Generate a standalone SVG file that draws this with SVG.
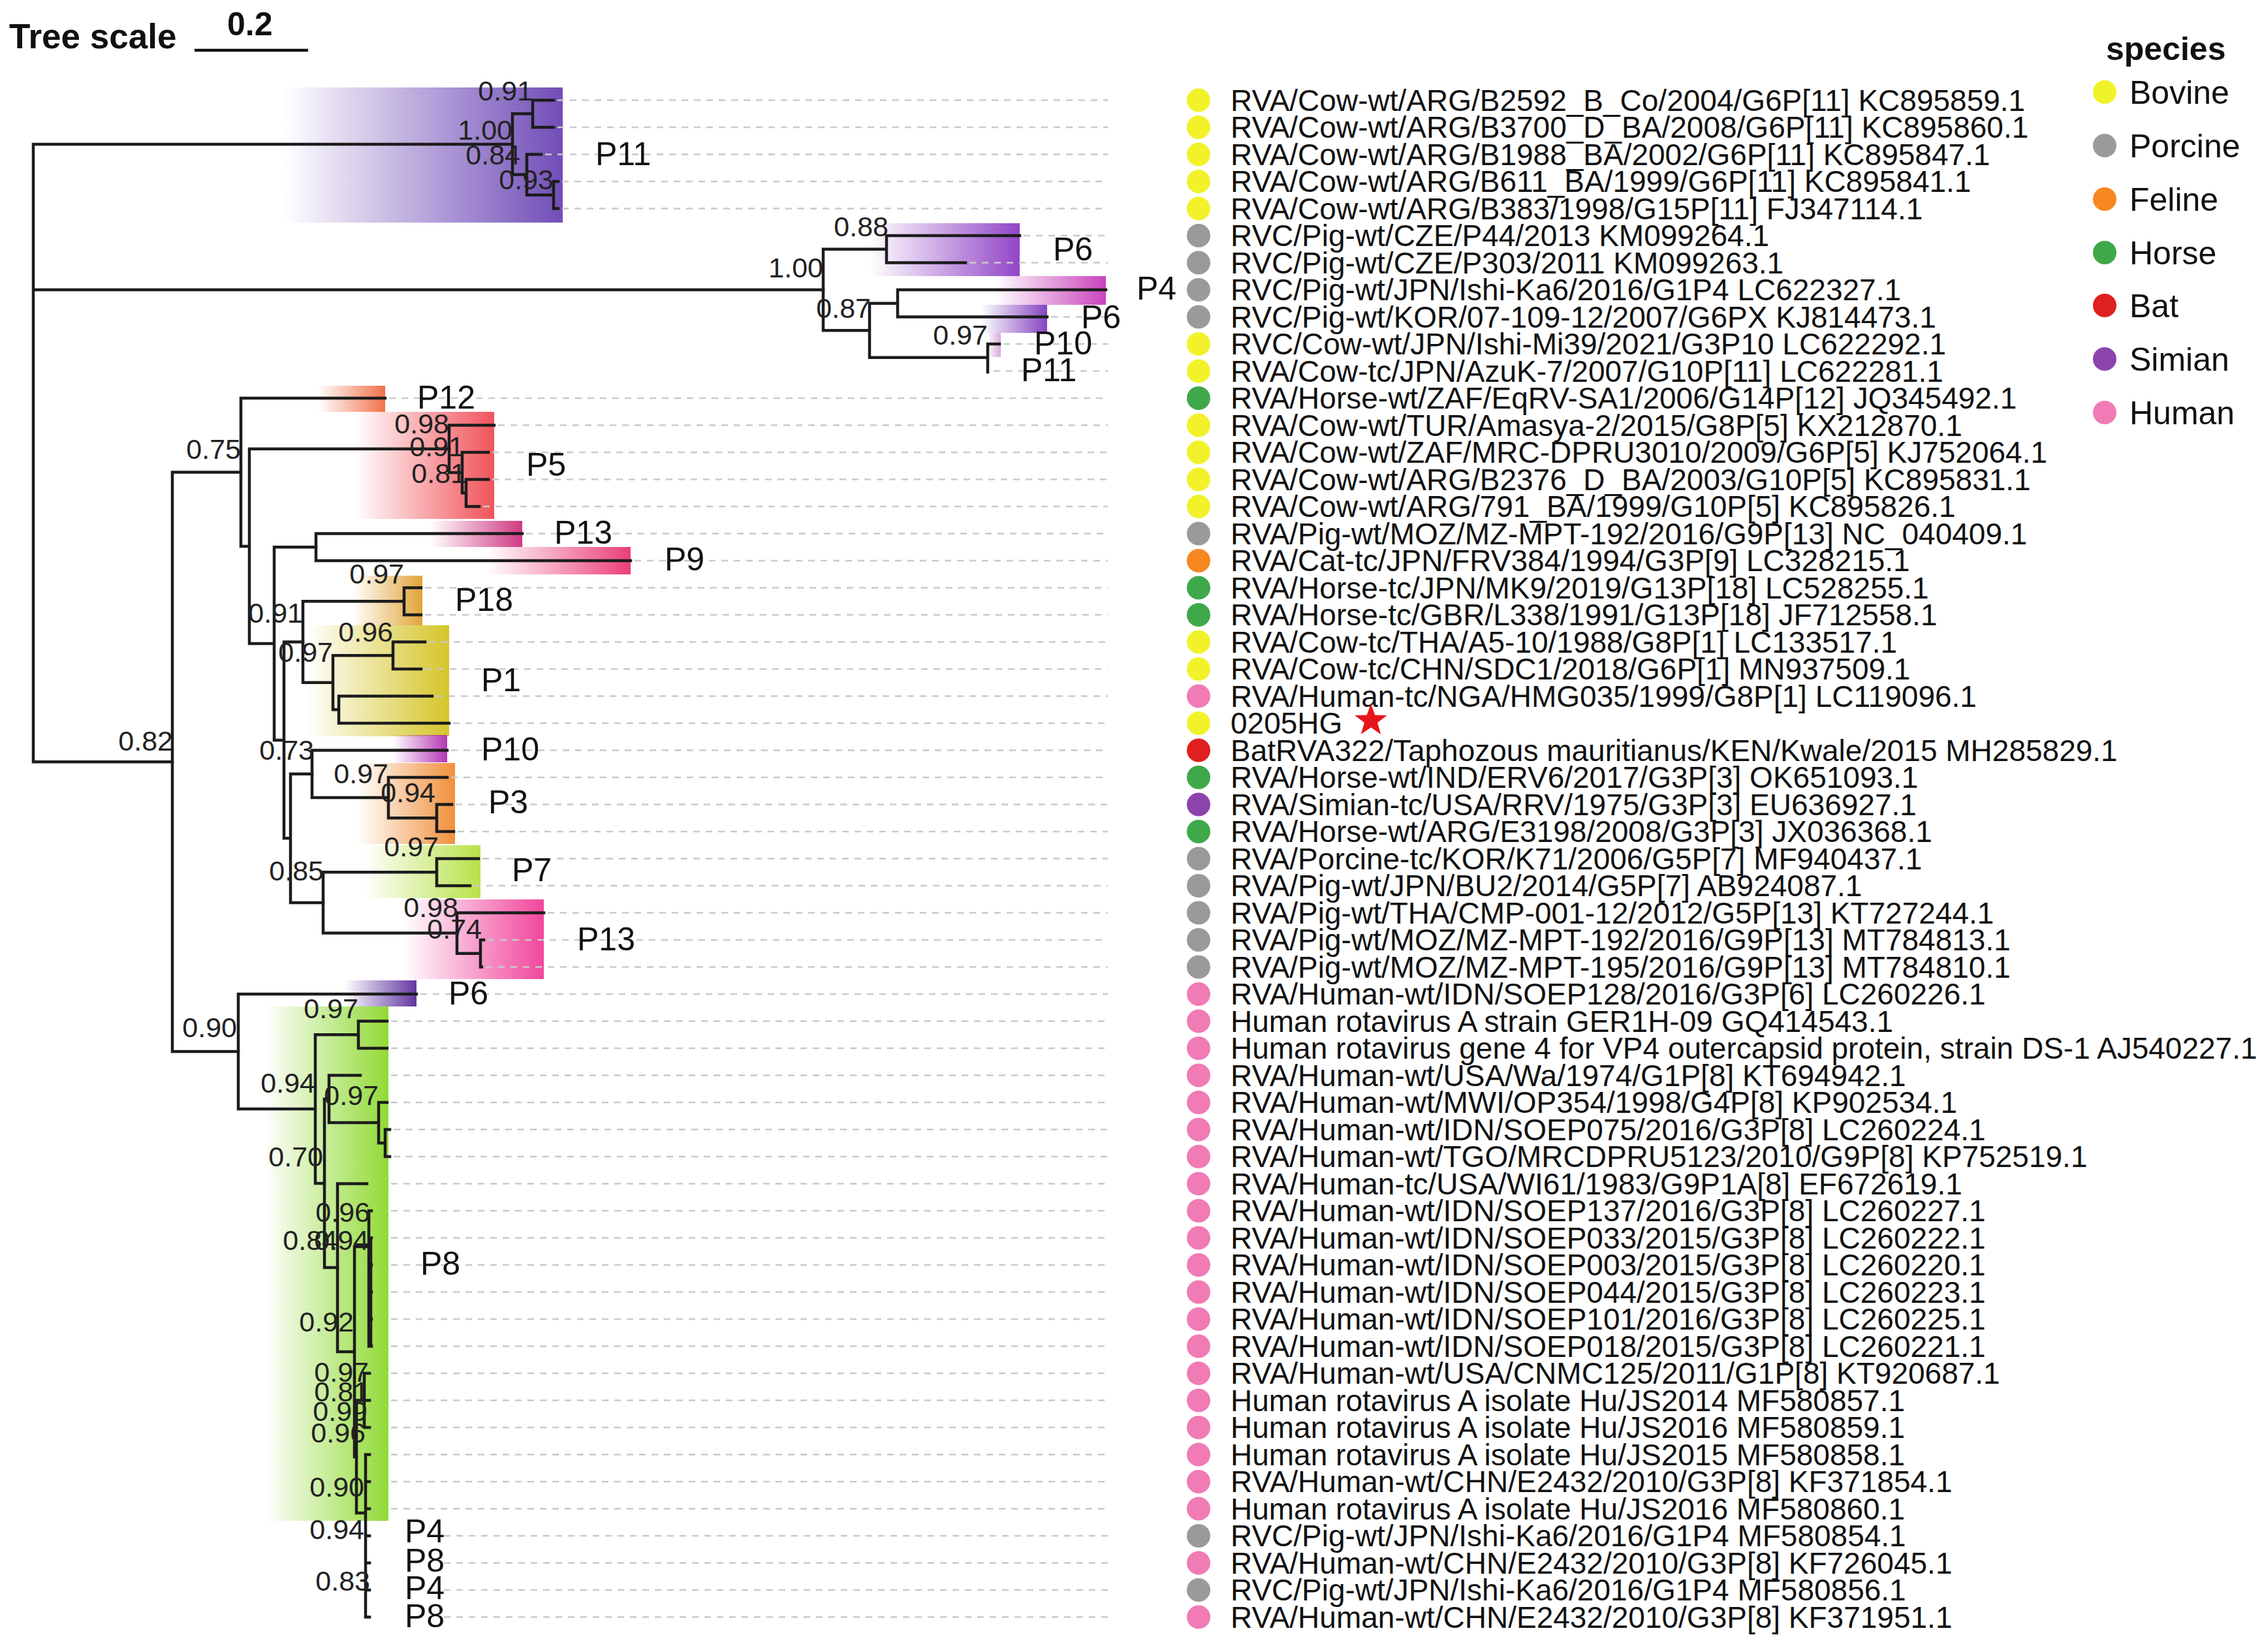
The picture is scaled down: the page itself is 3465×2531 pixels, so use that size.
<svg xmlns="http://www.w3.org/2000/svg" width="3465" height="2531" viewBox="0 0 3465 2531">
<style>
.br{fill:none;stroke:#1c1c1c;stroke-width:4.5;stroke-linecap:square}
.dash{stroke:#c9c9c9;stroke-width:2.5;stroke-dasharray:10 9}
text{font-family:"Liberation Sans",Arial,Helvetica,sans-serif;fill:#111}
.lf{font-size:46px}
.bs{font-size:43px;fill:#222;text-anchor:end}
.cl{font-size:50px}
.lg{font-size:50px}
.bov{fill:#f2f22a}.por{fill:#9a9a9a}.fel{fill:#f7871f}.hor{fill:#3fa84a}.bat{fill:#e0201e}.sim{fill:#8b44ac}.hum{fill:#f07bb5}
</style>
<defs>
<linearGradient id="g-p11"><stop offset="0" stop-color="#6a44b4" stop-opacity="0"/><stop offset="1" stop-color="#6a44b4" stop-opacity="0.95"/></linearGradient>
<linearGradient id="g-p6a"><stop offset="0" stop-color="#8c3cc4" stop-opacity="0"/><stop offset="1" stop-color="#8c3cc4" stop-opacity="0.95"/></linearGradient>
<linearGradient id="g-p4"><stop offset="0" stop-color="#c73ab8" stop-opacity="0"/><stop offset="1" stop-color="#c73ab8" stop-opacity="0.95"/></linearGradient>
<linearGradient id="g-p6b"><stop offset="0" stop-color="#7d3bbd" stop-opacity="0"/><stop offset="1" stop-color="#7d3bbd" stop-opacity="0.95"/></linearGradient>
<linearGradient id="g-p10a"><stop offset="0" stop-color="#c070c8" stop-opacity="0.1"/><stop offset="1" stop-color="#c070c8" stop-opacity="0.6"/></linearGradient>
<linearGradient id="g-p12"><stop offset="0" stop-color="#f06a40" stop-opacity="0"/><stop offset="1" stop-color="#f06a40" stop-opacity="0.95"/></linearGradient>
<linearGradient id="g-p5"><stop offset="0" stop-color="#f04a52" stop-opacity="0"/><stop offset="1" stop-color="#f04a52" stop-opacity="0.95"/></linearGradient>
<linearGradient id="g-p13a"><stop offset="0" stop-color="#cc2f7c" stop-opacity="0"/><stop offset="1" stop-color="#cc2f7c" stop-opacity="0.95"/></linearGradient>
<linearGradient id="g-p9"><stop offset="0" stop-color="#ea3572" stop-opacity="0"/><stop offset="1" stop-color="#ea3572" stop-opacity="0.95"/></linearGradient>
<linearGradient id="g-p18"><stop offset="0" stop-color="#e0a030" stop-opacity="0"/><stop offset="1" stop-color="#e0a030" stop-opacity="0.95"/></linearGradient>
<linearGradient id="g-p1"><stop offset="0" stop-color="#d2c21e" stop-opacity="0"/><stop offset="1" stop-color="#d2c21e" stop-opacity="0.95"/></linearGradient>
<linearGradient id="g-p10b"><stop offset="0" stop-color="#b02cb0" stop-opacity="0"/><stop offset="1" stop-color="#b02cb0" stop-opacity="0.95"/></linearGradient>
<linearGradient id="g-p3"><stop offset="0" stop-color="#f08a30" stop-opacity="0"/><stop offset="1" stop-color="#f08a30" stop-opacity="0.95"/></linearGradient>
<linearGradient id="g-p7"><stop offset="0" stop-color="#b5e040" stop-opacity="0"/><stop offset="1" stop-color="#b5e040" stop-opacity="0.95"/></linearGradient>
<linearGradient id="g-p13b"><stop offset="0" stop-color="#f03c96" stop-opacity="0"/><stop offset="1" stop-color="#f03c96" stop-opacity="0.95"/></linearGradient>
<linearGradient id="g-p6c"><stop offset="0" stop-color="#5a2c9c" stop-opacity="0"/><stop offset="1" stop-color="#5a2c9c" stop-opacity="0.95"/></linearGradient>
<linearGradient id="g-p8"><stop offset="0" stop-color="#8cd82c" stop-opacity="0"/><stop offset="1" stop-color="#8cd82c" stop-opacity="0.95"/></linearGradient>
</defs>
<rect width="3465" height="2531" fill="#ffffff"/>

<g id="tree-scale">
<text x="14" y="74" font-size="53" font-weight="bold">Tree scale</text>
<text x="348" y="54" font-size="50" font-weight="bold">0.2</text>
<line x1="298" y1="77" x2="472" y2="77" stroke="#111" stroke-width="4.5"/>
</g>

<g id="clade-boxes">
<rect x="434" y="134" width="428" height="207" fill="url(#g-p11)"/>
<rect x="1332" y="342" width="230" height="81" fill="url(#g-p6a)"/>
<rect x="1524" y="423" width="170" height="44" fill="url(#g-p4)"/>
<rect x="1502" y="467" width="102" height="43" fill="url(#g-p6b)"/>
<rect x="1515" y="510" width="18" height="37" fill="url(#g-p10a)"/>
<rect x="487" y="591" width="103" height="40" fill="url(#g-p12)"/>
<rect x="544" y="631" width="213" height="164" fill="url(#g-p5)"/>
<rect x="659" y="798" width="141" height="40" fill="url(#g-p13a)"/>
<rect x="745" y="838" width="221" height="42" fill="url(#g-p9)"/>
<rect x="540" y="882" width="107" height="76" fill="url(#g-p18)"/>
<rect x="470" y="958" width="218" height="170" fill="url(#g-p1)"/>
<rect x="602" y="1126" width="83" height="42" fill="url(#g-p10b)"/>
<rect x="547" y="1169" width="150" height="124" fill="url(#g-p3)"/>
<rect x="557" y="1295" width="179" height="81" fill="url(#g-p7)"/>
<rect x="618" y="1378" width="215" height="122" fill="url(#g-p13b)"/>
<rect x="527" y="1502" width="111" height="40" fill="url(#g-p6c)"/>
<rect x="405" y="1542" width="190" height="788" fill="url(#g-p8)"/>
</g>

<g id="leaves">
<g id="leaf-01" transform="translate(0 153.5)"><line class="dash" x1="854" x2="1697"/><circle class="bov" cx="1836" r="18"/><text class="lf" x="1885" y="16">RVA/Cow-wt/ARG/B2592_B_Co/2004/G6P[11] KC895859.1</text></g>
<g id="leaf-02" transform="translate(0 195)"><line class="dash" x1="854" x2="1697"/><circle class="bov" cx="1836" r="18"/><text class="lf" x="1885" y="16">RVA/Cow-wt/ARG/B3700_D_BA/2008/G6P[11] KC895860.1</text></g>
<g id="leaf-03" transform="translate(0 236.5)"><line class="dash" x1="835" x2="1697"/><circle class="bov" cx="1836" r="18"/><text class="lf" x="1885" y="16">RVA/Cow-wt/ARG/B1988_BA/2002/G6P[11] KC895847.1</text></g>
<g id="leaf-04" transform="translate(0 278)"><line class="dash" x1="861" x2="1697"/><circle class="bov" cx="1836" r="18"/><text class="lf" x="1885" y="16">RVA/Cow-wt/ARG/B611_BA/1999/G6P[11] KC895841.1</text></g>
<g id="leaf-05" transform="translate(0 319.5)"><line class="dash" x1="861" x2="1697"/><circle class="bov" cx="1836" r="18"/><text class="lf" x="1885" y="16">RVA/Cow-wt/ARG/B383/1998/G15P[11] FJ347114.1</text></g>
<g id="leaf-06" transform="translate(0 361)"><line class="dash" x1="1568" x2="1697"/><circle class="por" cx="1836" r="18"/><text class="lf" x="1885" y="16">RVC/Pig-wt/CZE/P44/2013 KM099264.1</text></g>
<g id="leaf-07" transform="translate(0 402.5)"><line class="dash" x1="1485" x2="1697"/><circle class="por" cx="1836" r="18"/><text class="lf" x="1885" y="16">RVC/Pig-wt/CZE/P303/2011 KM099263.1</text></g>
<g id="leaf-08" transform="translate(0 444)"><circle class="por" cx="1836" r="18"/><text class="lf" x="1885" y="16">RVC/Pig-wt/JPN/Ishi-Ka6/2016/G1P4 LC622327.1</text></g>
<g id="leaf-09" transform="translate(0 485.5)"><line class="dash" x1="1610" x2="1697"/><circle class="por" cx="1836" r="18"/><text class="lf" x="1885" y="16">RVC/Pig-wt/KOR/07-109-12/2007/G6PX KJ814473.1</text></g>
<g id="leaf-10" transform="translate(0 527)"><line class="dash" x1="1537" x2="1697"/><circle class="bov" cx="1836" r="18"/><text class="lf" x="1885" y="16">RVC/Cow-wt/JPN/Ishi-Mi39/2021/G3P10 LC622292.1</text></g>
<g id="leaf-11" transform="translate(0 568.5)"><line class="dash" x1="1522" x2="1697"/><circle class="bov" cx="1836" r="18"/><text class="lf" x="1885" y="16">RVA/Cow-tc/JPN/AzuK-7/2007/G10P[11] LC622281.1</text></g>
<g id="leaf-12" transform="translate(0 610)"><line class="dash" x1="596" x2="1697"/><circle class="hor" cx="1836" r="18"/><text class="lf" x="1885" y="16">RVA/Horse-wt/ZAF/EqRV-SA1/2006/G14P[12] JQ345492.1</text></g>
<g id="leaf-13" transform="translate(0 651.5)"><line class="dash" x1="763" x2="1697"/><circle class="bov" cx="1836" r="18"/><text class="lf" x="1885" y="16">RVA/Cow-wt/TUR/Amasya-2/2015/G8P[5] KX212870.1</text></g>
<g id="leaf-14" transform="translate(0 693)"><line class="dash" x1="754" x2="1697"/><circle class="bov" cx="1836" r="18"/><text class="lf" x="1885" y="16">RVA/Cow-wt/ZAF/MRC-DPRU3010/2009/G6P[5] KJ752064.1</text></g>
<g id="leaf-15" transform="translate(0 734.5)"><line class="dash" x1="754" x2="1697"/><circle class="bov" cx="1836" r="18"/><text class="lf" x="1885" y="16">RVA/Cow-wt/ARG/B2376_D_BA/2003/G10P[5] KC895831.1</text></g>
<g id="leaf-16" transform="translate(0 776)"><line class="dash" x1="740" x2="1697"/><circle class="bov" cx="1836" r="18"/><text class="lf" x="1885" y="16">RVA/Cow-wt/ARG/791_BA/1999/G10P[5] KC895826.1</text></g>
<g id="leaf-17" transform="translate(0 817.5)"><line class="dash" x1="806" x2="1697"/><circle class="por" cx="1836" r="18"/><text class="lf" x="1885" y="16">RVA/Pig-wt/MOZ/MZ-MPT-192/2016/G9P[13] NC_040409.1</text></g>
<g id="leaf-18" transform="translate(0 859)"><line class="dash" x1="972" x2="1697"/><circle class="fel" cx="1836" r="18"/><text class="lf" x="1885" y="16">RVA/Cat-tc/JPN/FRV384/1994/G3P[9] LC328215.1</text></g>
<g id="leaf-19" transform="translate(0 900.5)"><line class="dash" x1="651" x2="1697"/><circle class="hor" cx="1836" r="18"/><text class="lf" x="1885" y="16">RVA/Horse-tc/JPN/MK9/2019/G13P[18] LC528255.1</text></g>
<g id="leaf-20" transform="translate(0 942)"><line class="dash" x1="651" x2="1697"/><circle class="hor" cx="1836" r="18"/><text class="lf" x="1885" y="16">RVA/Horse-tc/GBR/L338/1991/G13P[18] JF712558.1</text></g>
<g id="leaf-21" transform="translate(0 983.5)"><line class="dash" x1="657" x2="1697"/><circle class="bov" cx="1836" r="18"/><text class="lf" x="1885" y="16">RVA/Cow-tc/THA/A5-10/1988/G8P[1] LC133517.1</text></g>
<g id="leaf-22" transform="translate(0 1025)"><line class="dash" x1="651" x2="1697"/><circle class="bov" cx="1836" r="18"/><text class="lf" x="1885" y="16">RVA/Cow-tc/CHN/SDC1/2018/G6P[1] MN937509.1</text></g>
<g id="leaf-23" transform="translate(0 1066.5)"><line class="dash" x1="668" x2="1697"/><circle class="hum" cx="1836" r="18"/><text class="lf" x="1885" y="16">RVA/Human-tc/NGA/HMG035/1999/G8P[1] LC119096.1</text></g>
<g id="leaf-24" transform="translate(0 1108)"><line class="dash" x1="694" x2="1697"/><circle class="bov" cx="1836" r="18"/><text class="lf" x="1885" y="16">0205HG</text><polygon fill="#e8141c" points="2100,-30 2106.2,-12.5 2124.7,-12 2110,-0.8 2115.3,17 2100,6.5 2084.7,17 2090,-0.8 2075.3,-12 2093.8,-12.5"/></g>
<g id="leaf-25" transform="translate(0 1149.5)"><line class="dash" x1="691" x2="1697"/><circle class="bat" cx="1836" r="18"/><text class="lf" x="1885" y="16">BatRVA322/Taphozous mauritianus/KEN/Kwale/2015 MH285829.1</text></g>
<g id="leaf-26" transform="translate(0 1191)"><line class="dash" x1="691" x2="1697"/><circle class="hor" cx="1836" r="18"/><text class="lf" x="1885" y="16">RVA/Horse-wt/IND/ERV6/2017/G3P[3] OK651093.1</text></g>
<g id="leaf-27" transform="translate(0 1232.5)"><line class="dash" x1="698" x2="1697"/><circle class="sim" cx="1836" r="18"/><text class="lf" x="1885" y="16">RVA/Simian-tc/USA/RRV/1975/G3P[3] EU636927.1</text></g>
<g id="leaf-28" transform="translate(0 1274)"><line class="dash" x1="701" x2="1697"/><circle class="hor" cx="1836" r="18"/><text class="lf" x="1885" y="16">RVA/Horse-wt/ARG/E3198/2008/G3P[3] JX036368.1</text></g>
<g id="leaf-29" transform="translate(0 1315.5)"><line class="dash" x1="739" x2="1697"/><circle class="por" cx="1836" r="18"/><text class="lf" x="1885" y="16">RVA/Porcine-tc/KOR/K71/2006/G5P[7] MF940437.1</text></g>
<g id="leaf-30" transform="translate(0 1357)"><line class="dash" x1="726" x2="1697"/><circle class="por" cx="1836" r="18"/><text class="lf" x="1885" y="16">RVA/Pig-wt/JPN/BU2/2014/G5P[7] AB924087.1</text></g>
<g id="leaf-31" transform="translate(0 1398.5)"><line class="dash" x1="839" x2="1697"/><circle class="por" cx="1836" r="18"/><text class="lf" x="1885" y="16">RVA/Pig-wt/THA/CMP-001-12/2012/G5P[13] KT727244.1</text></g>
<g id="leaf-32" transform="translate(0 1440)"><line class="dash" x1="747" x2="1697"/><circle class="por" cx="1836" r="18"/><text class="lf" x="1885" y="16">RVA/Pig-wt/MOZ/MZ-MPT-192/2016/G9P[13] MT784813.1</text></g>
<g id="leaf-33" transform="translate(0 1481.5)"><line class="dash" x1="744" x2="1697"/><circle class="por" cx="1836" r="18"/><text class="lf" x="1885" y="16">RVA/Pig-wt/MOZ/MZ-MPT-195/2016/G9P[13] MT784810.1</text></g>
<g id="leaf-34" transform="translate(0 1523)"><line class="dash" x1="644" x2="1697"/><circle class="hum" cx="1836" r="18"/><text class="lf" x="1885" y="16">RVA/Human-wt/IDN/SOEP128/2016/G3P[6] LC260226.1</text></g>
<g id="leaf-35" transform="translate(0 1564.5)"><line class="dash" x1="599" x2="1697"/><circle class="hum" cx="1836" r="18"/><text class="lf" x="1885" y="16">Human rotavirus A strain GER1H-09 GQ414543.1</text></g>
<g id="leaf-36" transform="translate(0 1606)"><line class="dash" x1="599" x2="1697"/><circle class="hum" cx="1836" r="18"/><text class="lf" x="1885" y="16">Human rotavirus gene 4 for VP4 outercapsid protein, strain DS-1 AJ540227.1</text></g>
<g id="leaf-37" transform="translate(0 1647.5)"><line class="dash" x1="599" x2="1697"/><circle class="hum" cx="1836" r="18"/><text class="lf" x="1885" y="16">RVA/Human-wt/USA/Wa/1974/G1P[8] KT694942.1</text></g>
<g id="leaf-38" transform="translate(0 1689)"><line class="dash" x1="599" x2="1697"/><circle class="hum" cx="1836" r="18"/><text class="lf" x="1885" y="16">RVA/Human-wt/MWI/OP354/1998/G4P[8] KP902534.1</text></g>
<g id="leaf-39" transform="translate(0 1730.5)"><line class="dash" x1="603" x2="1697"/><circle class="hum" cx="1836" r="18"/><text class="lf" x="1885" y="16">RVA/Human-wt/IDN/SOEP075/2016/G3P[8] LC260224.1</text></g>
<g id="leaf-40" transform="translate(0 1772)"><line class="dash" x1="603" x2="1697"/><circle class="hum" cx="1836" r="18"/><text class="lf" x="1885" y="16">RVA/Human-wt/TGO/MRCDPRU5123/2010/G9P[8] KP752519.1</text></g>
<g id="leaf-41" transform="translate(0 1813.5)"><line class="dash" x1="599" x2="1697"/><circle class="hum" cx="1836" r="18"/><text class="lf" x="1885" y="16">RVA/Human-tc/USA/WI61/1983/G9P1A[8] EF672619.1</text></g>
<g id="leaf-42" transform="translate(0 1855)"><line class="dash" x1="599" x2="1697"/><circle class="hum" cx="1836" r="18"/><text class="lf" x="1885" y="16">RVA/Human-wt/IDN/SOEP137/2016/G3P[8] LC260227.1</text></g>
<g id="leaf-43" transform="translate(0 1896.5)"><line class="dash" x1="599" x2="1697"/><circle class="hum" cx="1836" r="18"/><text class="lf" x="1885" y="16">RVA/Human-wt/IDN/SOEP033/2015/G3P[8] LC260222.1</text></g>
<g id="leaf-44" transform="translate(0 1938)"><line class="dash" x1="599" x2="1697"/><circle class="hum" cx="1836" r="18"/><text class="lf" x="1885" y="16">RVA/Human-wt/IDN/SOEP003/2015/G3P[8] LC260220.1</text></g>
<g id="leaf-45" transform="translate(0 1979.5)"><line class="dash" x1="599" x2="1697"/><circle class="hum" cx="1836" r="18"/><text class="lf" x="1885" y="16">RVA/Human-wt/IDN/SOEP044/2015/G3P[8] LC260223.1</text></g>
<g id="leaf-46" transform="translate(0 2021)"><line class="dash" x1="599" x2="1697"/><circle class="hum" cx="1836" r="18"/><text class="lf" x="1885" y="16">RVA/Human-wt/IDN/SOEP101/2016/G3P[8] LC260225.1</text></g>
<g id="leaf-47" transform="translate(0 2062.5)"><line class="dash" x1="599" x2="1697"/><circle class="hum" cx="1836" r="18"/><text class="lf" x="1885" y="16">RVA/Human-wt/IDN/SOEP018/2015/G3P[8] LC260221.1</text></g>
<g id="leaf-48" transform="translate(0 2104)"><line class="dash" x1="599" x2="1697"/><circle class="hum" cx="1836" r="18"/><text class="lf" x="1885" y="16">RVA/Human-wt/USA/CNMC125/2011/G1P[8] KT920687.1</text></g>
<g id="leaf-49" transform="translate(0 2145.5)"><line class="dash" x1="599" x2="1697"/><circle class="hum" cx="1836" r="18"/><text class="lf" x="1885" y="16">Human rotavirus A isolate Hu/JS2014 MF580857.1</text></g>
<g id="leaf-50" transform="translate(0 2187)"><line class="dash" x1="599" x2="1697"/><circle class="hum" cx="1836" r="18"/><text class="lf" x="1885" y="16">Human rotavirus A isolate Hu/JS2016 MF580859.1</text></g>
<g id="leaf-51" transform="translate(0 2228.5)"><line class="dash" x1="599" x2="1697"/><circle class="hum" cx="1836" r="18"/><text class="lf" x="1885" y="16">Human rotavirus A isolate Hu/JS2015 MF580858.1</text></g>
<g id="leaf-52" transform="translate(0 2270)"><line class="dash" x1="599" x2="1697"/><circle class="hum" cx="1836" r="18"/><text class="lf" x="1885" y="16">RVA/Human-wt/CHN/E2432/2010/G3P[8] KF371854.1</text></g>
<g id="leaf-53" transform="translate(0 2311.5)"><line class="dash" x1="599" x2="1697"/><circle class="hum" cx="1836" r="18"/><text class="lf" x="1885" y="16">Human rotavirus A isolate Hu/JS2016 MF580860.1</text></g>
<g id="leaf-54" transform="translate(0 2353)"><line class="dash" x1="680" x2="1697"/><circle class="por" cx="1836" r="18"/><text class="lf" x="1885" y="16">RVC/Pig-wt/JPN/Ishi-Ka6/2016/G1P4 MF580854.1</text></g>
<g id="leaf-55" transform="translate(0 2394.5)"><line class="dash" x1="680" x2="1697"/><circle class="hum" cx="1836" r="18"/><text class="lf" x="1885" y="16">RVA/Human-wt/CHN/E2432/2010/G3P[8] KF726045.1</text></g>
<g id="leaf-56" transform="translate(0 2436)"><line class="dash" x1="680" x2="1697"/><circle class="por" cx="1836" r="18"/><text class="lf" x="1885" y="16">RVC/Pig-wt/JPN/Ishi-Ka6/2016/G1P4 MF580856.1</text></g>
<g id="leaf-57" transform="translate(0 2477.5)"><line class="dash" x1="680" x2="1697"/><circle class="hum" cx="1836" r="18"/><text class="lf" x="1885" y="16">RVA/Human-wt/CHN/E2432/2010/G3P[8] KF371951.1</text></g>
</g>

<g id="connectors">
<path class="br" d="M785 220.9H51V1167.25H264M51 444H1261"/>
<path class="br" d="M848 153.5H816V195H848M855 278H848V319.5H855M829 236.5H807V298.75H848M816 174.25H785V267.6H807"/>
<path class="br" d="M1562 361H1358V402.5H1479M1694 444H1375V485.5H1604M1531 527H1513V570M1375 464.75H1332V547.75H1513M1358 381.75H1261V506.25H1332"/>
<path class="br" d="M748 734.5H714V776H734M748 693H708V755.25H714M757 651.5H688V724.1H708M800 817.5H484V859H966"/>
<path class="br" d="M645 900.5H619V942H645M651 983.5H602V1025H645M662 1066.5H519V1108H688M602 1004.25H510V1087.25H519M619 921.25H464V1045.75H510"/>
<path class="br" d="M692 1232.5H669V1274H695M685 1191H595V1253.25H669M685 1149.5H478V1222.1H595"/>
<path class="br" d="M733 1315.5H669V1357H720M741 1440H736V1481.5H738M833 1398.5H700V1460.75H736M669 1336.25H495V1429.6H700"/>
<path class="br" d="M478 1185.8H445V1382.9H495M464 983.5H435V1284.35H445M484 838.25H420V1133.9H435M688 687.8H382V986.1H420M590 610H369V836.95H382M369 723.5H264V1611H365"/>
<path class="br" d="M638 1523H365V1699H483M549 1585.25H483V1813H497M593 1564.5H549V1606H593M504 1683.8H497V1942H517M552 1647.5H504V1720.1H580M593 1689H580V1751.25H590M597 1730.5H590V1772H597"/>
<path class="br" d="M562 1813.5H517V2071H543M565 1910H543V2232H546M565 1855V2062.5M565 1855H569M565 1896.5H569M565 1938H569M565 1979.5H569M565 2021H569M565 2062.5H569M568 1896.5V2062.5"/>
<path class="br" d="M558 2145.5H546V2318H560M558 2104V2187M558 2104H566M558 2145.5H566M558 2187H566M560 2228.5V2477.5M560 2228.5H566M560 2270H566M560 2311.5H566M560 2353H566M560 2394.5H566M560 2436H566M560 2477.5H566"/>
</g>

<g id="support-values">
<text class="bs" x="816" y="154">0.91</text>
<text class="bs" x="785" y="214">1.00</text>
<text class="bs" x="797" y="252">0.84</text>
<text class="bs" x="848" y="290">0.93</text>
<text class="bs" x="1361" y="362">0.88</text>
<text class="bs" x="1261" y="425">1.00</text>
<text class="bs" x="1334" y="487">0.87</text>
<text class="bs" x="1513" y="528">0.97</text>
<text class="bs" x="265" y="1150">0.82</text>
<text class="bs" x="369" y="703">0.75</text>
<text class="bs" x="688" y="664">0.98</text>
<text class="bs" x="711" y="699">0.91</text>
<text class="bs" x="714" y="740">0.81</text>
<text class="bs" x="619" y="894">0.97</text>
<text class="bs" x="464" y="954">0.91</text>
<text class="bs" x="602" y="983">0.96</text>
<text class="bs" x="510" y="1014">0.97</text>
<text class="bs" x="481" y="1164">0.73</text>
<text class="bs" x="595" y="1200">0.97</text>
<text class="bs" x="667" y="1229">0.94</text>
<text class="bs" x="672" y="1312">0.97</text>
<text class="bs" x="496" y="1349">0.85</text>
<text class="bs" x="702" y="1405">0.98</text>
<text class="bs" x="738" y="1438">0.74</text>
<text class="bs" x="363" y="1589">0.90</text>
<text class="bs" x="549" y="1560">0.97</text>
<text class="bs" x="483" y="1674">0.94</text>
<text class="bs" x="580" y="1693">0.97</text>
<text class="bs" x="495" y="1787">0.70</text>
<text class="bs" x="567" y="1872">0.96</text>
<text class="bs" x="517" y="1915">0.84</text>
<text class="bs" x="565" y="1915">0.94</text>
<text class="bs" x="542" y="2040">0.92</text>
<text class="bs" x="565" y="2117">0.97</text>
<text class="bs" x="565" y="2147">0.81</text>
<text class="bs" x="563" y="2177">0.99</text>
<text class="bs" x="560" y="2210">0.96</text>
<text class="bs" x="558" y="2293">0.90</text>
<text class="bs" x="558" y="2358">0.94</text>
<text class="bs" x="567" y="2437">0.83</text>
</g>

<g id="clade-labels">
<text class="cl" x="912" y="253">P11</text>
<text class="cl" x="1613" y="399">P6</text>
<text class="cl" x="1741" y="459">P4</text>
<text class="cl" x="1656" y="503">P6</text>
<text class="cl" x="1584" y="543">P10</text>
<text class="cl" x="1564" y="584">P11</text>
<text class="cl" x="639" y="626">P12</text>
<text class="cl" x="806" y="729">P5</text>
<text class="cl" x="849" y="833">P13</text>
<text class="cl" x="1018" y="874">P9</text>
<text class="cl" x="697" y="936">P18</text>
<text class="cl" x="737" y="1059">P1</text>
<text class="cl" x="737" y="1165">P10</text>
<text class="cl" x="748" y="1246">P3</text>
<text class="cl" x="784" y="1350">P7</text>
<text class="cl" x="884" y="1456">P13</text>
<text class="cl" x="687" y="1539">P6</text>
<text class="cl" x="644" y="1953">P8</text>
<text class="cl" x="620" y="2363">P4</text>
<text class="cl" x="620" y="2408">P8</text>
<text class="cl" x="620" y="2450">P4</text>
<text class="cl" x="620" y="2493">P8</text>
</g>

<g id="legend">
<text x="3226" y="92" font-size="50" font-weight="bold">species</text>
<circle class="bov" cx="3224" cy="141" r="18"/><text class="lg" x="3262" y="159">Bovine</text>
<circle class="por" cx="3224" cy="223" r="18"/><text class="lg" x="3262" y="241">Porcine</text>
<circle class="fel" cx="3224" cy="305" r="18"/><text class="lg" x="3262" y="323">Feline</text>
<circle class="hor" cx="3224" cy="387" r="18"/><text class="lg" x="3262" y="405">Horse</text>
<circle class="bat" cx="3224" cy="468" r="18"/><text class="lg" x="3262" y="486">Bat</text>
<circle class="sim" cx="3224" cy="550" r="18"/><text class="lg" x="3262" y="568">Simian</text>
<circle class="hum" cx="3224" cy="632" r="18"/><text class="lg" x="3262" y="650">Human</text>
</g>
</svg>
